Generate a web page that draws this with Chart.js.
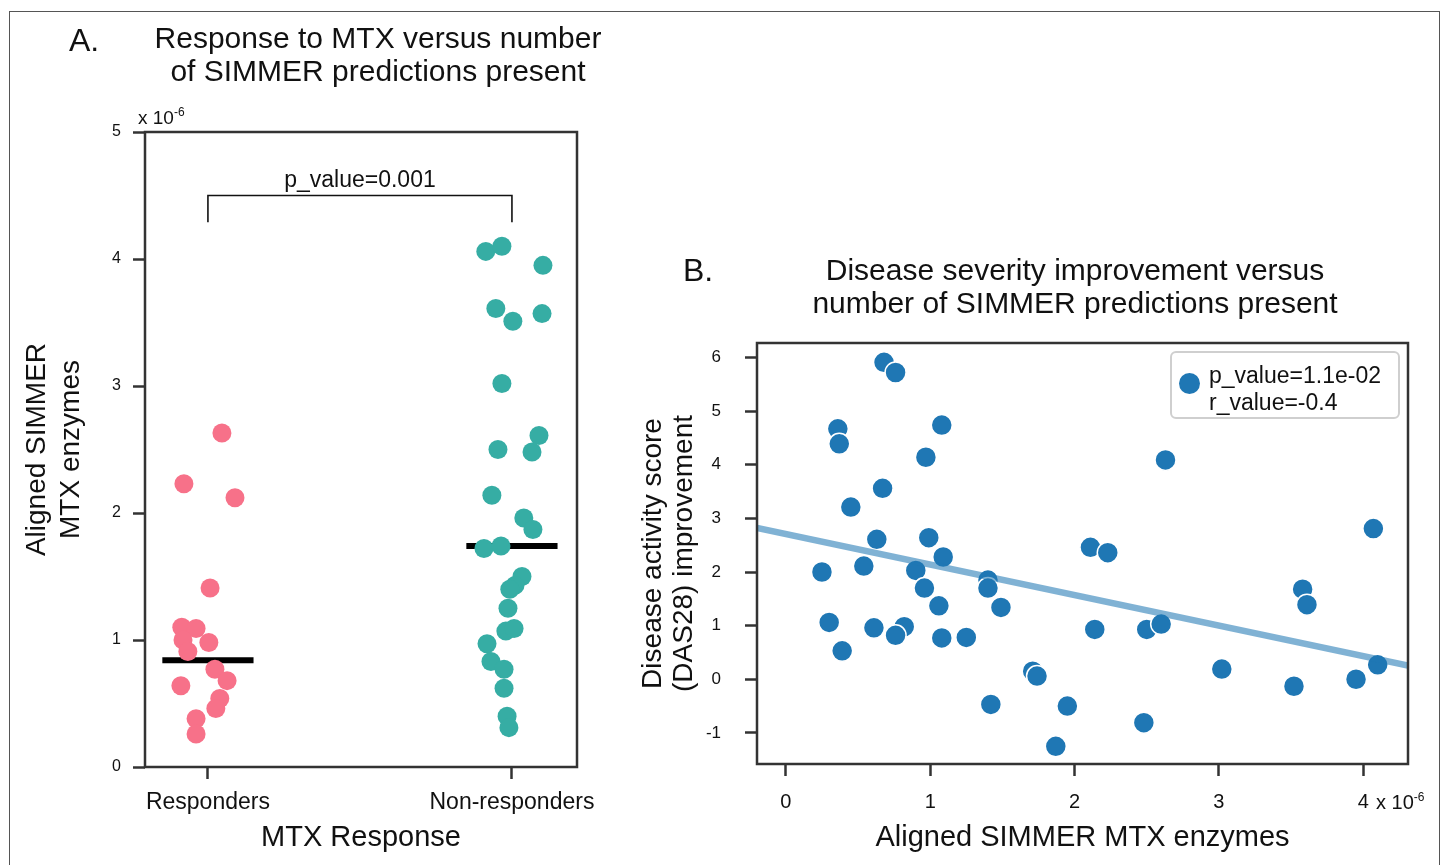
<!DOCTYPE html>
<html>
<head>
<meta charset="utf-8">
<script src="https://cdn.jsdelivr.net/npm/chart.js@4/dist/chart.umd.min.js"></script>
<style>
  body { margin: 0; background: #fff; }
  #pagina {
    position: relative;
    width: 1448px;
    height: 865px;
    overflow: hidden;
    font-family: "Liberation Sans", Arial, sans-serif;
    color: #111;
  }
  #pagina canvas { position: absolute; top: 0; }
  .moldura {
    position: absolute;
    left: 9px;
    top: 11px;
    width: 1429px;
    height: 880px;
    border: 1px solid #555;
  }
  .texto { position: absolute; white-space: nowrap; }
  .titulo { font-size: 30px; line-height: 33px; text-align: center; }
  .letra { font-size: 32px; line-height: 36px; }
  .expoente { font-size: 12px; position: relative; top: -8px; }
  .legenda {
    position: absolute;
    left: 1170px;
    top: 351px;
    width: 226px;
    height: 64px;
    border: 2.5px solid #cfcfcf;
    border-radius: 6px;
    background: rgba(255, 255, 255, 0.8);
  }
  .legenda .marca {
    position: absolute;
    left: 7px;
    top: 20px;
    width: 21px;
    height: 21px;
    border-radius: 50%;
    background: #1f77b4;
    box-shadow: 0 0 0 1px #fff;
  }
  .legenda .linhas {
    position: absolute;
    left: 37px;
    top: 9px;
    font-size: 23px;
    line-height: 27px;
  }
</style>
</head>
<body>
<div id="pagina">
  <div class="moldura"></div>

  <canvas id="graficoResposta" width="620" height="865" style="left:0"></canvas>
  <canvas id="graficoMelhora" width="828" height="865" style="left:620px"></canvas>

  <div class="texto letra" style="left:69px; top:22px">A.</div>
  <div class="texto titulo" style="left:78px; top:21px; width:600px">Response to MTX versus number<br>of SIMMER predictions present</div>
  <div class="texto" style="left:138px; top:106px; font-size:19px; line-height:24px">x 10<span class="expoente">-6</span></div>

  <div class="texto letra" style="left:683px; top:252px">B.</div>
  <div class="texto titulo" style="left:725px; top:253px; width:700px">Disease severity improvement versus<br>number of SIMMER predictions present</div>
  <div class="texto" style="left:1376px; top:790px; font-size:20px; line-height:24px">x 10<span class="expoente">-6</span></div>

  <div class="legenda">
    <div class="marca"></div>
    <div class="linhas" id="legendaTexto"></div>
  </div>
</div>

<script>
// painel A: valores em unidades de 1e-6
const categorias = ["Responders", "Non-responders"];
const respondersY = [2.63, 2.23, 2.12, 1.41, 1.10, 1.09, 1.00, 0.98, 0.91, 0.77, 0.68, 0.64, 0.54, 0.46, 0.38, 0.26];
const respondersJitter = [0.046, -0.079, 0.089, 0.007, -0.086, -0.039, -0.082, 0.003, -0.066, 0.023, 0.063, -0.089, 0.039, 0.026, -0.039, -0.039];
const naoRespY = [4.06, 4.10, 3.95, 3.61, 3.51, 3.57, 3.02, 2.61, 2.50, 2.48, 2.14, 1.96, 1.87, 1.72, 1.74, 1.50, 1.43, 1.40, 1.25, 1.07, 1.09, 0.97, 0.83, 0.77, 0.62, 0.40, 0.31];
const naoRespJitter = [-0.086, -0.033, 0.102, -0.053, 0.003, 0.099, -0.033, 0.089, -0.046, 0.066, -0.066, 0.039, 0.069, -0.092, -0.036, 0.033, 0.010, -0.007, -0.013, -0.020, 0.007, -0.082, -0.069, -0.026, -0.026, -0.016, -0.010];
const medianas = [0.84, 1.74];
const colchete = { topo: 4.50, base: 4.29 };
const pValueA = "p_value=0.001";
const yTicksA = [0, 1, 2, 3, 4, 5];

// painel B: x em unidades de 1e-6, y = melhora no DAS28
const xB = [0.68, 0.76, 0.36, 0.37, 1.08, 0.97, 0.67, 0.45, 0.63, 0.99, 1.09, 0.25, 0.54, 0.90, 0.96, 1.06, 1.40, 1.40, 1.49, 0.30, 0.61, 0.82, 0.76, 1.08, 1.25, 0.39, 1.71, 1.74, 1.42, 1.95, 1.87, 2.11, 2.23, 3.58, 3.61, 2.14, 2.50, 2.60, 3.02, 3.52, 3.95, 4.10, 2.48, 2.63, 4.07];
const yB = [5.91, 5.72, 4.67, 4.39, 4.74, 4.14, 3.56, 3.21, 2.61, 2.64, 2.28, 2.00, 2.11, 2.03, 1.70, 1.37, 1.85, 1.70, 1.34, 1.06, 0.96, 0.98, 0.82, 0.77, 0.78, 0.53, 0.15, 0.06, -0.47, -0.50, -1.25, 2.46, 2.36, 1.68, 1.39, 0.93, 0.93, 1.03, 0.19, -0.13, 0.00, 0.27, -0.81, 4.09, 2.81];
const regressao = { intercepto: 2.71, inclinacao: -0.57 };
const xTicksB = [0, 1, 2, 3, 4];
const yTicksB = [-1, 0, 1, 2, 3, 4, 5, 6];
const legendaB = ["p_value=1.1e-02", "r_value=-0.4"];

const FONTE = '"Liberation Sans", Arial, sans-serif';
const COR_EIXO = "#333";
const MEIA_LARGURA_MEDIANA = 0.15;

Chart.defaults.font.family = FONTE;
Chart.defaults.color = "#111";

// caixa completa em volta da area do grafico
const molduraPlugin = {
  id: "moldura",
  afterDatasetsDraw(chart) {
    const { ctx, chartArea: a } = chart;
    ctx.save();
    ctx.strokeStyle = COR_EIXO;
    ctx.lineWidth = 2.5;
    ctx.strokeRect(a.left, a.top, a.right - a.left, a.bottom - a.top);
    ctx.restore();
  }
};

function gradeComTicks() {
  return {
    display: true,
    drawOnChartArea: false,
    drawTicks: true,
    tickLength: 12,
    tickWidth: 2.5,
    tickColor: COR_EIXO
  };
}

function criarGraficoResposta() {

  const pontosResp = respondersY.map((v, i) => ({ x: 0 + respondersJitter[i], y: v }));
  const pontosNao = naoRespY.map((v, i) => ({ x: 1 + naoRespJitter[i], y: v }));

  const linhasMediana = medianas.map((m, i) => ({
    data: [
      { x: i - MEIA_LARGURA_MEDIANA, y: m },
      { x: i + MEIA_LARGURA_MEDIANA, y: m }
    ],
    showLine: true,
    borderColor: "#000",
    borderWidth: 6,
    borderCapStyle: "butt",
    pointRadius: 0,
    order: 2
  }));

  const anotacaoPlugin = {
    id: "anotacao",
    afterDatasetsDraw(chart) {
      const { ctx, scales } = chart;
      const x = scales.x.getPixelForValue(0.5);
      const y = scales.y.getPixelForValue(colchete.topo) - 15;
      ctx.save();
      ctx.font = "23px " + FONTE;
      ctx.fillStyle = "#111";
      ctx.textAlign = "center";
      ctx.textBaseline = "middle";
      ctx.fillText(pValueA, x, y);
      ctx.restore();
    }
  };

  const ctx = document.getElementById("graficoResposta").getContext("2d");

  new Chart(ctx, {
    type: "scatter",
    data: {
      datasets: [
        {
          label: categorias[0],
          data: pontosResp,
          pointBackgroundColor: "#f77189",
          pointBorderWidth: 0,
          pointRadius: 9.5,
          order: 1
        },
        {
          label: categorias[1],
          data: pontosNao,
          pointBackgroundColor: "#36ada4",
          pointBorderWidth: 0,
          pointRadius: 9.5,
          order: 1
        },
        ...linhasMediana,
        {
          data: [
            { x: 0, y: colchete.base },
            { x: 0, y: colchete.topo },
            { x: 1, y: colchete.topo },
            { x: 1, y: colchete.base }
          ],
          showLine: true,
          borderColor: "#111",
          borderWidth: 1.6,
          pointRadius: 0,
          order: 3
        }
      ]
    },
    options: {
      responsive: false,
      animation: false,
      events: [],
      layout: { padding: { top: 132, right: 43, left: 0, bottom: 0 } },
      plugins: { legend: { display: false }, tooltip: { enabled: false } },
      scales: {
        x: {
          type: "linear",
          min: -0.207,
          max: 1.214,
          afterBuildTicks: s => { s.ticks = [0, 1].map(v => ({ value: v })); },
          afterFit: s => { s.height = 98; },
          ticks: {
            callback: v => categorias[v],
            font: { size: 23 },
            padding: 10,
            maxRotation: 0,
            autoSkip: false
          },
          grid: gradeComTicks(),
          border: { display: false },
          title: {
            display: true,
            text: "MTX Response",
            font: { size: 29 },
            padding: { top: 0, bottom: 10 }
          }
        },
        y: {
          min: 0,
          max: 5,
          afterBuildTicks: s => { s.ticks = yTicksA.map(v => ({ value: v })); },
          afterFit: s => { s.width = 145; },
          ticks: { font: { size: 16 }, padding: 12 },
          grid: gradeComTicks(),
          border: { display: false },
          title: {
            display: true,
            text: ["Aligned SIMMER", "MTX enzymes"],
            font: { size: 28, lineHeight: 1.214 },
            padding: { top: 20, bottom: 0 }
          }
        }
      }
    },
    plugins: [molduraPlugin, anotacaoPlugin]
  });
}

function criarGraficoMelhora() {

  const xMin = -0.2;
  const xMax = 4.31;

  const pontos = xB.map((x, i) => ({ x, y: yB[i] }));
  const reta = [xMin, xMax].map(x => ({
    x,
    y: regressao.intercepto + regressao.inclinacao * x
  }));

  const ctx = document.getElementById("graficoMelhora").getContext("2d");

  new Chart(ctx, {
    type: "scatter",
    data: {
      datasets: [
        {
          label: legendaB.join(" "),
          data: pontos,
          pointBackgroundColor: "#1f77b4",
          pointBorderColor: "#fff",
          pointBorderWidth: 1.5,
          pointRadius: 10.5,
          order: 2
        },
        {
          data: reta,
          showLine: true,
          borderColor: "rgba(31, 119, 180, 0.57)",
          borderWidth: 6.5,
          borderCapStyle: "butt",
          pointRadius: 0,
          order: 1
        }
      ]
    },
    options: {
      responsive: false,
      animation: false,
      events: [],
      layout: { padding: { top: 343, right: 40, left: 0, bottom: 0 } },
      plugins: { legend: { display: false }, tooltip: { enabled: false } },
      scales: {
        x: {
          type: "linear",
          min: xMin,
          max: xMax,
          afterBuildTicks: s => { s.ticks = xTicksB.map(v => ({ value: v })); },
          afterFit: s => { s.height = 101; },
          ticks: { font: { size: 20 }, padding: 14, maxRotation: 0, autoSkip: false },
          grid: gradeComTicks(),
          border: { display: false },
          title: {
            display: true,
            text: "Aligned SIMMER MTX enzymes",
            font: { size: 29 },
            padding: { top: 0, bottom: 10 }
          }
        },
        y: {
          min: -1.58,
          max: 6.27,
          afterBuildTicks: s => { s.ticks = yTicksB.map(v => ({ value: v })); },
          afterFit: s => { s.width = 137; },
          ticks: { font: { size: 17 }, padding: 24 },
          grid: gradeComTicks(),
          border: { display: false },
          title: {
            display: true,
            text: ["Disease activity score", "(DAS28) improvement"],
            font: { size: 28, lineHeight: 1.107 },
            padding: { top: 17.5, bottom: 0 }
          }
        }
      }
    },
    plugins: [molduraPlugin]
  });

  document.querySelector("#legendaTexto").innerHTML = legendaB.join("<br>");
}

criarGraficoResposta();
criarGraficoMelhora();
</script>
</body>
</html>
